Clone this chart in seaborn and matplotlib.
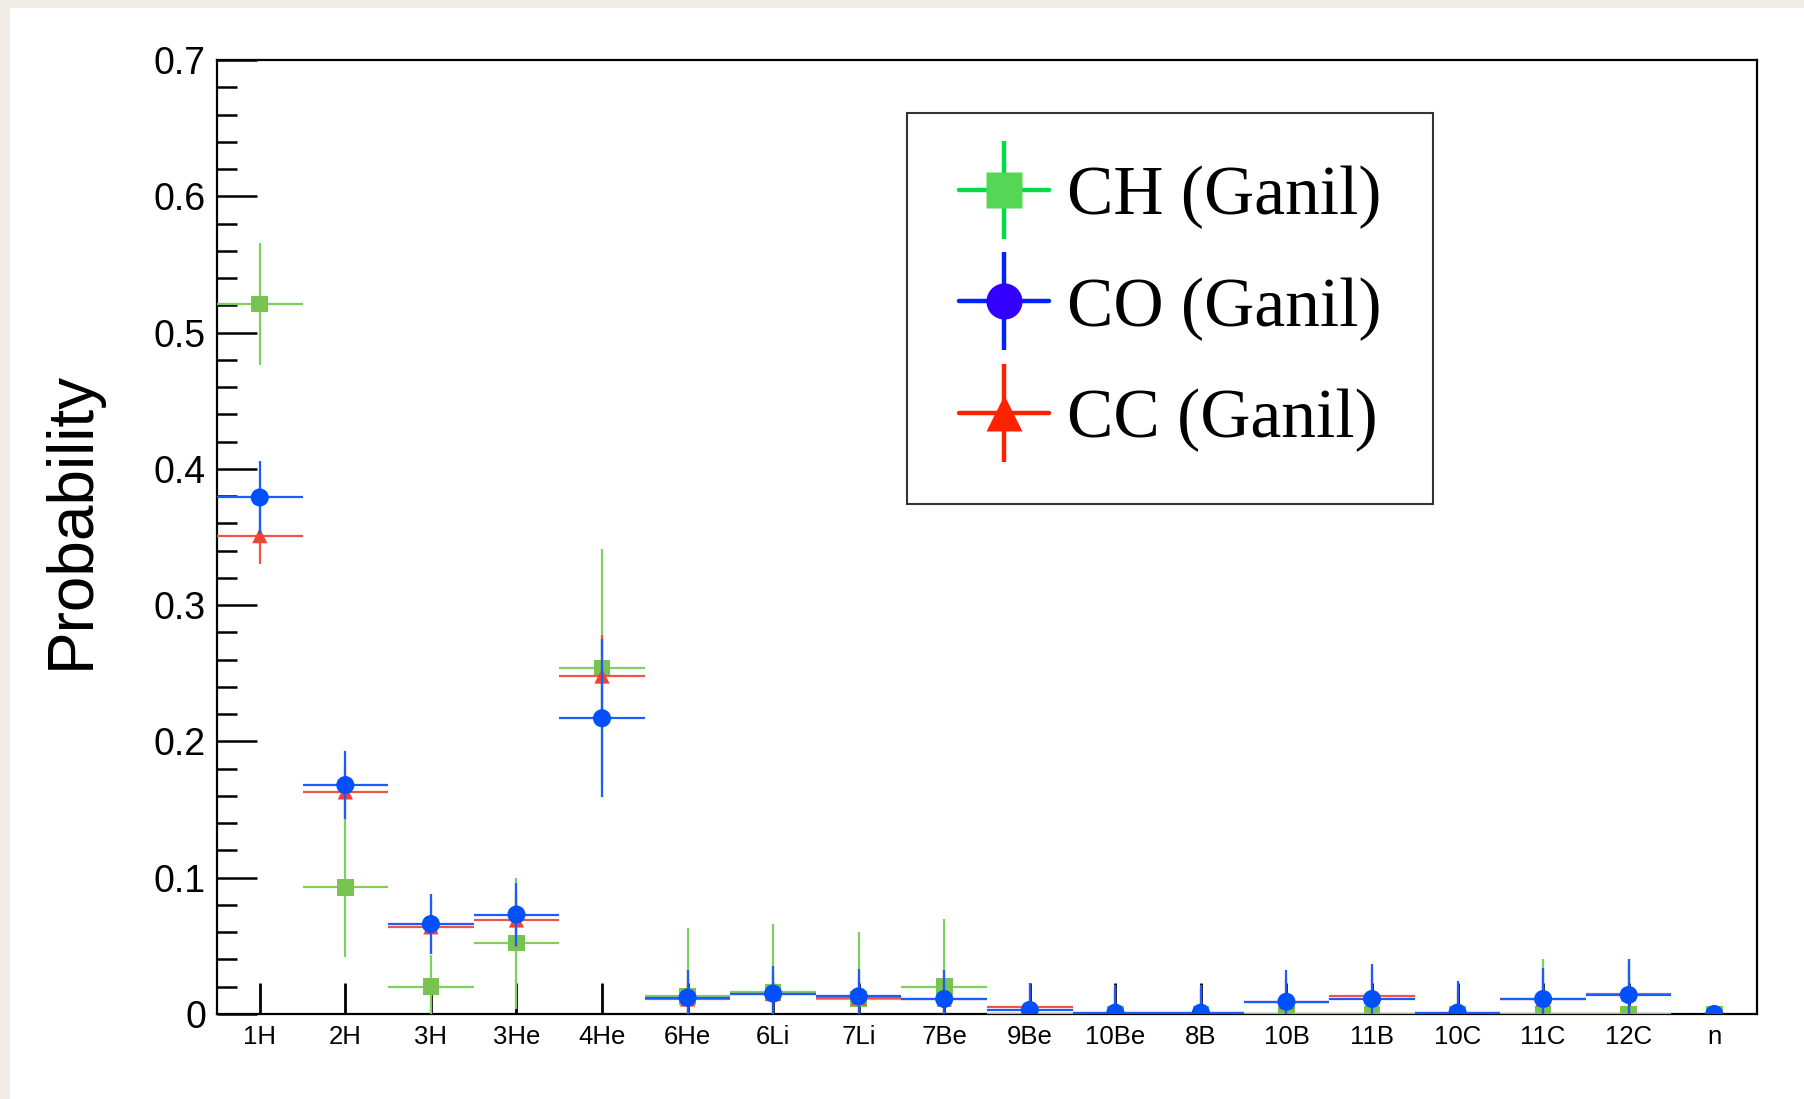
import matplotlib.pyplot as plt
import seaborn as sns
import pandas as pd
import numpy as np
from matplotlib.lines import Line2D
from matplotlib.patches import Rectangle
from matplotlib.legend_handler import HandlerTuple

sns.set_theme(style='white')
plt.rcParams['font.family'] = ['Liberation Sans', 'DejaVu Sans']
plt.rcParams.update({'text.color': 'black', 'axes.labelcolor': 'black',
                     'xtick.color': 'black', 'ytick.color': 'black'})

# fragments (x categories)
fragments = ['1H', '2H', '3H', '3He', '4He', '6He', '6Li', '7Li', '7Be', '9Be',
             '10Be', '8B', '10B', '11B', '10C', '11C', '12C', 'n']

# CH (Ganil)
ch_prob = [0.521, 0.093, 0.020, 0.052, 0.254, 0.013, 0.016, 0.011, 0.020, 0.0,
           0.0, 0.0, 0.0, 0.0, 0.0, 0.0, 0.0, 0.0]
ch_err = [0.045, 0.051, 0.023, 0.048, 0.087, 0.050, 0.050, 0.049, 0.050, 0.0,
          0.0, 0.0, 0.0, 0.0, 0.0, 0.040, 0.040, 0.0]

# CO (Ganil)
co_prob = [0.379, 0.168, 0.066, 0.073, 0.217, 0.012, 0.015, 0.013, 0.011, 0.003,
           0.001, 0.001, 0.009, 0.011, 0.001, 0.011, 0.014, 0.0]
co_err = [0.027, 0.025, 0.022, 0.023, 0.058, 0.020, 0.020, 0.020, 0.021, 0.020,
          0.020, 0.020, 0.023, 0.026, 0.023, 0.023, 0.026, 0.0]

# CC (Ganil)
cc_prob = [0.351, 0.163, 0.064, 0.069, 0.248, 0.011, 0.015, 0.012, 0.011, 0.005,
           0.001, 0.001, 0.009, 0.013, 0.001, 0.011, 0.015, 0.0]
cc_err = [0.021, 0.020, 0.020, 0.020, 0.030, 0.015, 0.015, 0.015, 0.015, 0.018,
          0.018, 0.018, 0.018, 0.020, 0.018, 0.018, 0.020, 0.0]

x = np.arange(len(fragments))
xerr = np.array([0.5] * (len(fragments) - 1) + [0.0])

fig = plt.figure(figsize=(18.04, 10.99), dpi=100, facecolor='#efede6')
fig.add_artist(Rectangle((10 / 1804, 0), 1, 1 - 8 / 1099, transform=fig.transFigure,
                         facecolor='white', edgecolor='none', zorder=0))
ax = fig.add_axes([217 / 1804, 1 - 1014 / 1099, 1540 / 1804, 954 / 1099])
ax.set_facecolor('white')

series = [
    ('CH (Ganil)', ch_prob, ch_err, '#7fcf5f', '#77c550', 's', 12),
    ('CC (Ganil)', cc_prob, cc_err, '#ee5544', '#ee4433', '^', 11),
    ('CO (Ganil)', co_prob, co_err, '#1a5cff', '#0050ff', 'o', 13),
]

for i, (name, prob, err, lc, mc, mk, ms) in enumerate(series):
    ax.errorbar(x, prob, yerr=err, xerr=xerr, fmt='none', ecolor=lc,
                elinewidth=1.6, capsize=0, zorder=3 + 2 * i)
    df = pd.DataFrame({'x': x, 'prob': prob})
    sns.scatterplot(data=df, x='x', y='prob', marker=mk, s=ms ** 2, color=mc,
                    edgecolor='none', linewidth=0, ax=ax, zorder=4 + 2 * i)

ax.set_xlim(-0.5, len(fragments) - 0.5)
ax.set_ylim(0, 0.7)
ax.set_xticks(x)
ax.set_xticklabels(fragments, fontsize=18.5, color='black')
ax.set_yticks(np.arange(0, 0.71, 0.1))
ax.set_yticklabels(['0', '0.1', '0.2', '0.3', '0.4', '0.5', '0.6', '0.7'],
                   fontsize=27, color='black')
ax.set_yticks(np.arange(0, 0.701, 0.02), minor=True)
ax.tick_params(axis='y', which='major', direction='in', length=29, width=1.8,
               color='black', pad=8, left=True)
ax.tick_params(axis='y', which='minor', direction='in', length=14.5, width=1.8,
               color='black', left=True)
ax.tick_params(axis='x', which='major', direction='in', length=22, width=2.0,
               color='black', pad=8, bottom=True)
ax.tick_params(axis='x', which='minor', bottom=False)
ax.xaxis.get_major_ticks()[-1].tick1line.set_visible(False)
for sp in ax.spines.values():
    sp.set_color('black')
    sp.set_linewidth(1.6)
    sp.set_zorder(2.5)

ax.set_xlabel('')
ax.set_ylabel('Probability', fontsize=46, color='black')
ax.yaxis.set_label_coords(-0.075, 0.518)

# legend
leg_specs = [
    ('CH (Ganil)', '#00dd44', '#55d655', 's', 26),
    ('CO (Ganil)', '#0022ff', '#3300ff', 'o', 26),
    ('CC (Ganil)', '#ff2200', '#ff2200', '^', 26),
]
handles, labels = [], []
for name, lc, fc, mk, ms in leg_specs:
    h_line = Line2D([], [], color=lc, lw=3.2)
    v_line = Line2D([], [], color=lc, marker='|', markersize=71, mew=3.2, linestyle='None')
    mark = Line2D([], [], color=fc, marker=mk, markersize=ms, mec='none', linestyle='None')
    handles.append((h_line, v_line, mark))
    labels.append(name)

leg = ax.legend(handles, labels, handler_map={tuple: HandlerTuple(ndivide=1, pad=0)},
                loc='upper left', bbox_to_anchor=(0.448, 0.944), borderaxespad=0,
                prop={'family': 'Liberation Serif', 'size': 50}, frameon=True,
                fancybox=False, edgecolor='black', handlelength=1.3,
                handletextpad=0.25, borderpad=0.75, labelspacing=0.69,
                labelcolor='black')
leg.get_frame().set_linewidth(1.5)
leg.set_zorder(20)

fig.savefig('out.png', dpi=100, facecolor=fig.get_facecolor())
